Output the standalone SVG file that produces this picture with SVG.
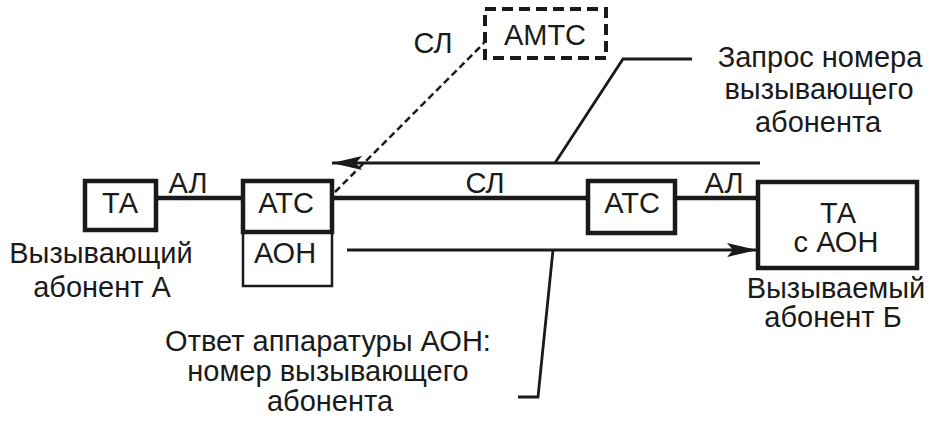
<svg xmlns="http://www.w3.org/2000/svg" width="938" height="430" viewBox="0 0 938 430">
<style>
  text { font-family: "Liberation Sans", Arial, sans-serif; font-size: 29px; fill: #1a1a1a; text-anchor: middle; }
  .box { fill: none; stroke: #1a1a1a; stroke-width: 4.5; }
  .thin { fill: none; stroke: #1a1a1a; stroke-width: 2.5; }
  .dbox { fill: none; stroke: #1a1a1a; stroke-width: 4; stroke-dasharray: 11 6; }
  .thick { stroke: #1a1a1a; stroke-width: 4.5; fill: none; }
  .line { stroke: #1a1a1a; stroke-width: 2.8; fill: none; }
  .dash { stroke: #1a1a1a; stroke-width: 2.5; fill: none; stroke-dasharray: 7 4; }
</style>
<defs>
  <marker id="arr" markerUnits="userSpaceOnUse" markerWidth="30" markerHeight="14" refX="30" refY="7" orient="auto">
    <path d="M0,0 L30,7 L0,14 L6,7 z" fill="#1a1a1a"/>
  </marker>
</defs>
<rect width="938" height="430" fill="#ffffff"/>

<g id="connectors">
  <line class="thick" x1="157" y1="198" x2="243" y2="198"/>
  <line class="thick" x1="332" y1="198" x2="587" y2="198"/>
  <line class="thick" x1="675" y1="198" x2="757" y2="198"/>
  <line class="line" x1="760" y1="163" x2="332" y2="163" marker-end="url(#arr)"/>
  <line class="line" x1="347" y1="250" x2="757" y2="250" marker-end="url(#arr)"/>
  <line class="dash" x1="335" y1="192" x2="484" y2="43"/>
  <polyline class="line" points="555,163 623,59 692,59"/>
  <polyline class="line" points="553,250 538,397 518,397"/>
  <text x="188" y="193">АЛ</text>
  <text x="485" y="193">СЛ</text>
  <text x="724" y="193">АЛ</text>
  <text x="433" y="53">СЛ</text>
</g>

<g id="ta-a">
  <rect class="box" x="85" y="181" width="71" height="49"/>
  <text x="120" y="213">ТА</text>
  <text x="101" y="263">Вызывающий</text>
  <text x="102" y="297">абонент А</text>
</g>

<g id="atc-a">
  <rect class="thin" x="243" y="232" width="89" height="54"/>
  <rect class="box" x="243" y="181" width="89" height="51"/>
  <text x="286" y="213">АТС</text>
  <text x="285" y="263">АОН</text>
</g>

<g id="amts">
  <rect class="dbox" x="485" y="9" width="121" height="49"/>
  <text x="545" y="45">АМТС</text>
</g>

<g id="atc-b">
  <rect class="box" x="588" y="181" width="87" height="52"/>
  <text x="632" y="213">АТС</text>
</g>

<g id="ta-b">
  <rect class="box" x="758" y="182" width="159" height="86"/>
  <text x="838" y="223">ТА</text>
  <text x="836" y="252">с АОН</text>
  <text x="836" y="298">Вызываемый</text>
  <text x="833" y="327">абонент Б</text>
</g>

<g id="note-request">
  <text x="820" y="67">Запрос номера</text>
  <text x="819" y="99">вызывающего</text>
  <text x="818" y="132">абонента</text>
</g>

<g id="note-answer">
  <text x="328" y="351">Ответ аппаратуры АОН:</text>
  <text x="328" y="381">номер вызывающего</text>
  <text x="330" y="411">абонента</text>
</g>
</svg>
